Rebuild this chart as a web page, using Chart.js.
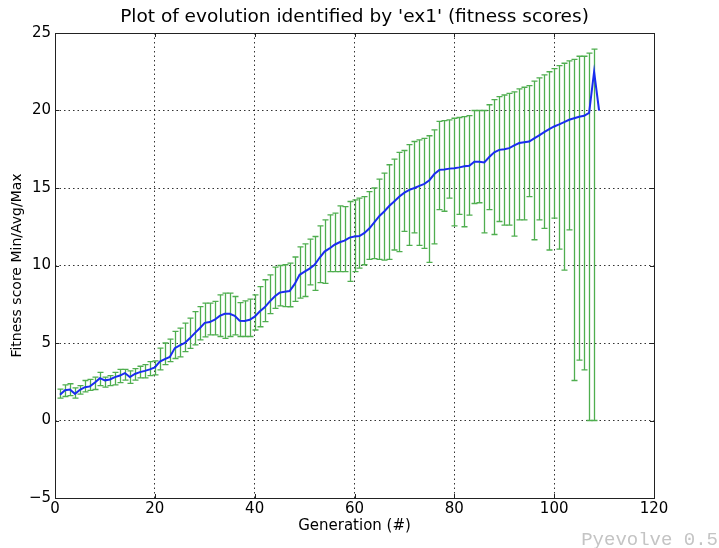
<!DOCTYPE html>
<html><head><meta charset="utf-8">
<script src="https://cdn.jsdelivr.net/npm/chart.js@4.4.1/dist/chart.umd.min.js"></script>
<style>html,body{margin:0;padding:0;background:#fff;}canvas{display:block;}</style>
</head><body>
<canvas id="c" width="719" height="548"></canvas>
<script>
const generations = [1,2,3,4,5,6,7,8,9,10,11,12,13,14,15,16,17,18,19,20,21,22,23,24,25,26,27,28,29,30,31,32,33,34,35,36,37,38,39,40,41,42,43,44,45,46,47,48,49,50,51,52,53,54,55,56,57,58,59,60,61,62,63,64,65,66,67,68,69,70,71,72,73,74,75,76,77,78,79,80,81,82,83,84,85,86,87,88,89,90,91,92,93,94,95,96,97,98,99,100,101,102,103,104,105,106,107,108,109];
const avgScores = [1.66,1.95,2.0,1.72,1.98,2.15,2.2,2.45,2.73,2.59,2.65,2.8,2.9,3.06,2.8,3.0,3.12,3.2,3.3,3.43,3.8,3.96,4.1,4.67,4.85,5.0,5.3,5.64,5.95,6.3,6.35,6.5,6.75,6.88,6.88,6.75,6.44,6.42,6.5,6.7,7.03,7.3,7.67,8.0,8.25,8.3,8.35,8.8,9.4,9.6,9.8,10.05,10.5,10.9,11.1,11.34,11.5,11.6,11.8,11.87,11.9,12.1,12.4,12.8,13.2,13.5,13.85,14.15,14.45,14.7,14.88,15.0,15.14,15.27,15.5,15.9,16.17,16.2,16.25,16.28,16.33,16.4,16.43,16.7,16.7,16.65,17.0,17.3,17.46,17.5,17.57,17.75,17.9,17.95,18.0,18.2,18.4,18.6,18.8,18.97,19.1,19.25,19.4,19.5,19.6,19.66,19.85,22.5,20.0];
const maxScores = [2.02,2.3,2.37,2.1,2.25,2.58,2.65,2.8,3.1,2.8,2.9,3.1,3.3,3.3,3.2,3.35,3.5,3.6,3.8,3.85,4.67,5.0,5.25,5.75,5.96,6.28,6.6,7.03,7.35,7.57,7.57,7.68,8.1,8.22,8.22,8.0,7.6,7.72,7.83,8.1,8.64,9.08,9.4,9.9,10.0,10.05,10.15,10.55,11.2,11.4,11.7,11.87,12.56,12.95,13.27,13.38,13.85,13.8,14.13,14.24,14.35,14.45,14.77,15.0,15.57,15.96,16.5,16.86,17.3,17.42,17.8,18.0,18.1,18.2,18.37,18.75,19.3,19.35,19.4,19.5,19.55,19.6,19.67,20.0,20.0,20.0,20.37,20.7,20.9,21.0,21.1,21.2,21.4,21.5,21.6,21.9,22.1,22.3,22.5,22.7,22.9,23.05,23.2,23.3,23.5,23.5,23.7,23.96,null];
const minScores = [1.45,1.55,1.6,1.45,1.7,1.85,1.95,2.0,2.25,2.15,2.25,2.3,2.45,2.6,2.4,2.6,2.75,2.75,2.9,2.95,3.27,3.6,3.8,4.0,4.1,4.45,4.65,4.88,5.2,5.4,5.53,5.53,5.42,5.3,5.42,5.53,5.42,5.42,5.42,5.84,6.05,6.38,6.9,7.24,7.4,7.35,7.34,7.68,7.9,8.0,8.75,8.4,8.9,8.85,9.6,9.6,9.6,9.6,8.97,9.6,9.83,10.05,10.4,10.45,10.4,10.35,10.4,11.0,10.9,12.2,11.3,12.1,11.3,11.1,10.2,11.4,13.6,13.5,14.35,12.56,13.3,12.5,13.25,14.0,14.05,12.1,13.6,12.0,12.84,12.6,12.6,11.9,12.95,12.95,14.45,11.66,12.95,12.4,11.0,13.06,11.06,9.7,12.3,2.58,3.9,3.27,0,0,null];
const xTicks = [0,20,40,60,80,100,120];
const yTicks = [-5,0,5,10,15,20,25];

const errorBars = {
  id: 'errorBars',
  beforeDatasetsDraw(chart) {
    const ctx = chart.ctx, xs = chart.scales.x, ys = chart.scales.y;
    ctx.save();
    ctx.strokeStyle = '#4fae4f';
    ctx.lineWidth = 1.3;
    for (let i = 0; i < generations.length; i++) {
      if (minScores[i] == null || maxScores[i] == null) continue;
      const x = Math.round(xs.getPixelForValue(generations[i])) + 0.5;
      const y1 = ys.getPixelForValue(minScores[i]);
      const y2 = ys.getPixelForValue(maxScores[i]);
      ctx.beginPath();
      ctx.moveTo(x, y1); ctx.lineTo(x, y2);
      ctx.moveTo(x - 3, y1); ctx.lineTo(x + 3, y1);
      ctx.moveTo(x - 3, y2); ctx.lineTo(x + 3, y2);
      ctx.stroke();
    }
    ctx.restore();
  }
};

const frame = {
  id: 'frame',
  afterDraw(chart) {
    const ctx = chart.ctx, a = chart.chartArea, xs = chart.scales.x, ys = chart.scales.y;
    ctx.save();
    ctx.strokeStyle = '#222';
    ctx.lineWidth = 1;
    ctx.strokeRect(Math.round(a.left) + 0.5, Math.round(a.top) + 0.5, Math.round(a.right - a.left), Math.round(a.bottom - a.top));
    ctx.beginPath();
    xTicks.forEach(v => {
      const x = Math.round(xs.getPixelForValue(v)) + 0.5;
      ctx.moveTo(x, a.bottom); ctx.lineTo(x, a.bottom - 4);
      ctx.moveTo(x, a.top); ctx.lineTo(x, a.top + 4);
    });
    yTicks.forEach(v => {
      const y = Math.round(ys.getPixelForValue(v)) + 0.5;
      ctx.moveTo(a.left, y); ctx.lineTo(a.left + 4, y);
      ctx.moveTo(a.right, y); ctx.lineTo(a.right - 4, y);
    });
    ctx.stroke();
    ctx.font = '19px "Liberation Mono", "DejaVu Sans Mono", monospace';
    ctx.fillStyle = '#c4c4c4';
    ctx.textAlign = 'right';
    ctx.textBaseline = 'alphabetic';
    ctx.fillText('Pyevolve 0.5', 718, 545);
    ctx.restore();
  }
};

const fontFam = '"DejaVu Sans", sans-serif';
new Chart(document.getElementById('c'), {
  type: 'line',
  data: {
    datasets: [{
      data: generations.map((g, i) => ({x: g, y: avgScores[i]})),
      borderColor: '#1a2cf0',
      borderWidth: 2,
      pointRadius: 0,
      tension: 0,
      fill: false
    }]
  },
  options: {
    responsive: false,
    animation: false,
    devicePixelRatio: 1,
    layout: {padding: {left: 0, right: 65, top: 0, bottom: 0}},
    plugins: {
      legend: {display: false},
      tooltip: {enabled: false},
      title: {
        display: true,
        fullSize: false,
        text: "Plot of evolution identified by 'ex1' (fitness scores)",
        color: '#000',
        font: {family: fontFam, size: 18.5, weight: 'normal'},
        padding: {top: 6, bottom: 4.8}
      }
    },
    scales: {
      x: {
        type: 'linear', min: 0, max: 120,
        afterBuildTicks: s => { s.ticks = xTicks.map(v => ({value: v})); },
        afterFit: s => { s.height = 50; },
        grid: {color: 'rgba(0,0,0,0.8)', lineWidth: 1, drawTicks: false},
        border: {display: false, dash: [1.5, 3]},
        ticks: {color: '#000', font: {family: fontFam, size: 15}, padding: 2, maxRotation: 0},
        title: {display: true, text: 'Generation (#)', color: '#000', font: {family: fontFam, size: 15}, padding: {top: 0, bottom: 13}}
      },
      y: {
        type: 'linear', min: -5, max: 25,
        afterBuildTicks: s => { s.ticks = yTicks.map(v => ({value: v})); },
        afterFit: s => { s.width = 55; },
        grid: {color: 'rgba(0,0,0,0.8)', lineWidth: 1, drawTicks: false},
        border: {display: false, dash: [1.5, 3]},
        ticks: {color: '#000', font: {family: fontFam, size: 15}, padding: 4,
          callback: v => v < 0 ? '\u2212' + Math.abs(v) : String(v)},
        title: {display: true, text: 'Fitness score Min/Avg/Max', color: '#000', font: {family: fontFam, size: 14}, padding: {top: 8.6, bottom: 0}}
      }
    }
  },
  plugins: [errorBars, frame]
});
</script>
</body></html>
